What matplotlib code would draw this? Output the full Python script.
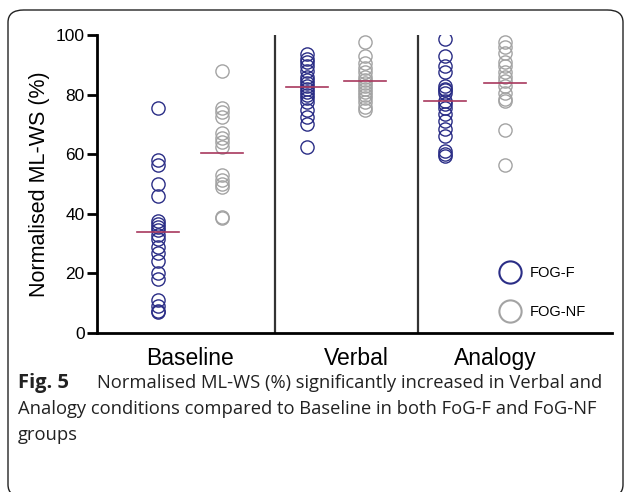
import matplotlib.pyplot as plt
from matplotlib.patches import FancyBboxPatch
from matplotlib.lines import Line2D

plt.rcParams['font.family'] = ['Liberation Sans', 'DejaVu Sans']

# 数据
conditions = ['Baseline', 'Verbal', 'Analogy']
groups = ['FOG-F', 'FOG-NF']

baseline_f = [75.5, 58, 56.5, 50, 46, 37.5, 36.5, 35.5, 34.5, 33, 31.5, 29, 27, 24, 20, 18, 11, 9, 7.5, 7]
baseline_nf = [88, 75.5, 74, 72.5, 67, 65.5, 64, 62.5, 53, 51.5, 50, 49, 39, 38.5]
verbal_f = [93.5, 92, 91, 89.5, 88, 86, 85, 84, 83, 82, 81, 80, 79, 77.5, 75, 72.5, 70, 62.5]
verbal_nf = [97.5, 93, 90.5, 89, 87.5, 86, 85, 84, 83, 82, 81, 80, 79, 77.5, 76, 75]
analogy_f = [98.5, 93, 89.5, 87.5, 83, 82, 81.5, 80.5, 78, 77, 75.5, 73.5, 71, 68.5, 66, 61, 60, 59.5]
analogy_nf = [97.5, 96, 94, 91, 89.5, 87.5, 86, 84.5, 83, 80.5, 78.5, 78, 68, 56.5]

mean_f = [34, 82.5, 78]
mean_nf = [60.5, 84.5, 84]

yticks = [0, 20, 40, 60, 80, 100]

col_f = '#2a2d86'
col_nf = '#a3a3a3'
col_mean = '#a8385e'

W, H = 627, 492
fig = plt.figure(figsize=(W / 100, H / 100), dpi=100)

# 外框（圆角）
box = FancyBboxPatch((8 / W, 1 - 497 / H), (623 - 8) / W, (497 - 10) / H,
                     boxstyle='round,pad=0,rounding_size=0.025',
                     transform=fig.transFigure, fill=False, edgecolor='#222222',
                     linewidth=1.0, clip_on=False)
fig.patches.append(box)

ax = fig.add_axes([97 / W, 1 - 333 / H, (612 - 97) / W, (333 - 35) / H])

# x 坐标：1 单位 = 143 px，原点在 y 轴
def px(x):
    return (x - 97) / 143.0

x_f = [px(158), px(307), px(445)]
x_nf = [px(222), px(365), px(505)]
sep_x = [px(275), px(418)]
label_x = [px(190), px(356), px(495)]

data_f = [baseline_f, verbal_f, analogy_f]
data_nf = [baseline_nf, verbal_nf, analogy_nf]

for i in range(3):
    ax.plot([x_f[i]] * len(data_f[i]), data_f[i], 'o', ms=9.5, mfc='none',
            mec=col_f, mew=1.0, zorder=3)
    ax.plot([x_nf[i]] * len(data_nf[i]), data_nf[i], 'o', ms=9.5, mfc='none',
            mec=col_nf, mew=1.0, zorder=3)
    ax.plot([x_f[i] - 0.15, x_f[i] + 0.15], [mean_f[i]] * 2, color=col_mean, lw=1.2, zorder=4)
    ax.plot([x_nf[i] - 0.15, x_nf[i] + 0.15], [mean_nf[i]] * 2, color=col_mean, lw=1.2, zorder=4)

for s in sep_x:
    ax.plot([s, s], [0, 100], color='#333333', lw=1.6, zorder=2)

ax.set_xlim(0, px(612))
ax.set_ylim(0, 100)
ax.set_yticks(yticks)
ax.set_yticklabels([str(v) for v in yticks], fontsize=12.5)
ax.set_xticks(label_x)
ax.set_xticklabels(conditions, fontsize=16.5)
ax.tick_params(axis='x', length=0, pad=10)
ax.tick_params(axis='y', length=7, width=2, pad=2)
for side in ['top', 'right']:
    ax.spines[side].set_visible(False)
for side in ['left', 'bottom']:
    ax.spines[side].set_linewidth(2)
ax.set_ylabel('Normalised ML-WS (%)', fontsize=15.5, labelpad=4)

handles = [Line2D([], [], marker='o', ls='none', ms=16, mfc='none', mec=col_f, mew=1.5),
           Line2D([], [], marker='o', ls='none', ms=16, mfc='none', mec=col_nf, mew=1.5)]
ax.legend(handles, groups, loc='upper left', frameon=False, fontsize=10.5,
          bbox_to_anchor=((490 - 97) / (612 - 97), (333 - 260) / (333 - 35)),
          labelspacing=1.75, handletextpad=0.3, borderaxespad=0)

# 图注
cap_font = ['Open Sans', 'DejaVu Sans']
fig.text(18 / W, 1 - 383 / H, 'Fig. 5', fontsize=14.5, fontweight='bold',
         family=cap_font, color='#222222', va='center')
fig.text(97 / W, 1 - 383 / H,
         'Normalised ML-WS (%) significantly increased in Verbal and',
         fontsize=13.2, family=cap_font, color='#222222', va='center')
fig.text(18 / W, 1 - 409 / H,
         'Analogy conditions compared to Baseline in both FoG-F and FoG-NF',
         fontsize=13.2, family=cap_font, color='#222222', va='center')
fig.text(18 / W, 1 - 435 / H, 'groups', fontsize=13.2,
         family=cap_font, color='#222222', va='center')

fig.savefig('out.png', dpi=100)
